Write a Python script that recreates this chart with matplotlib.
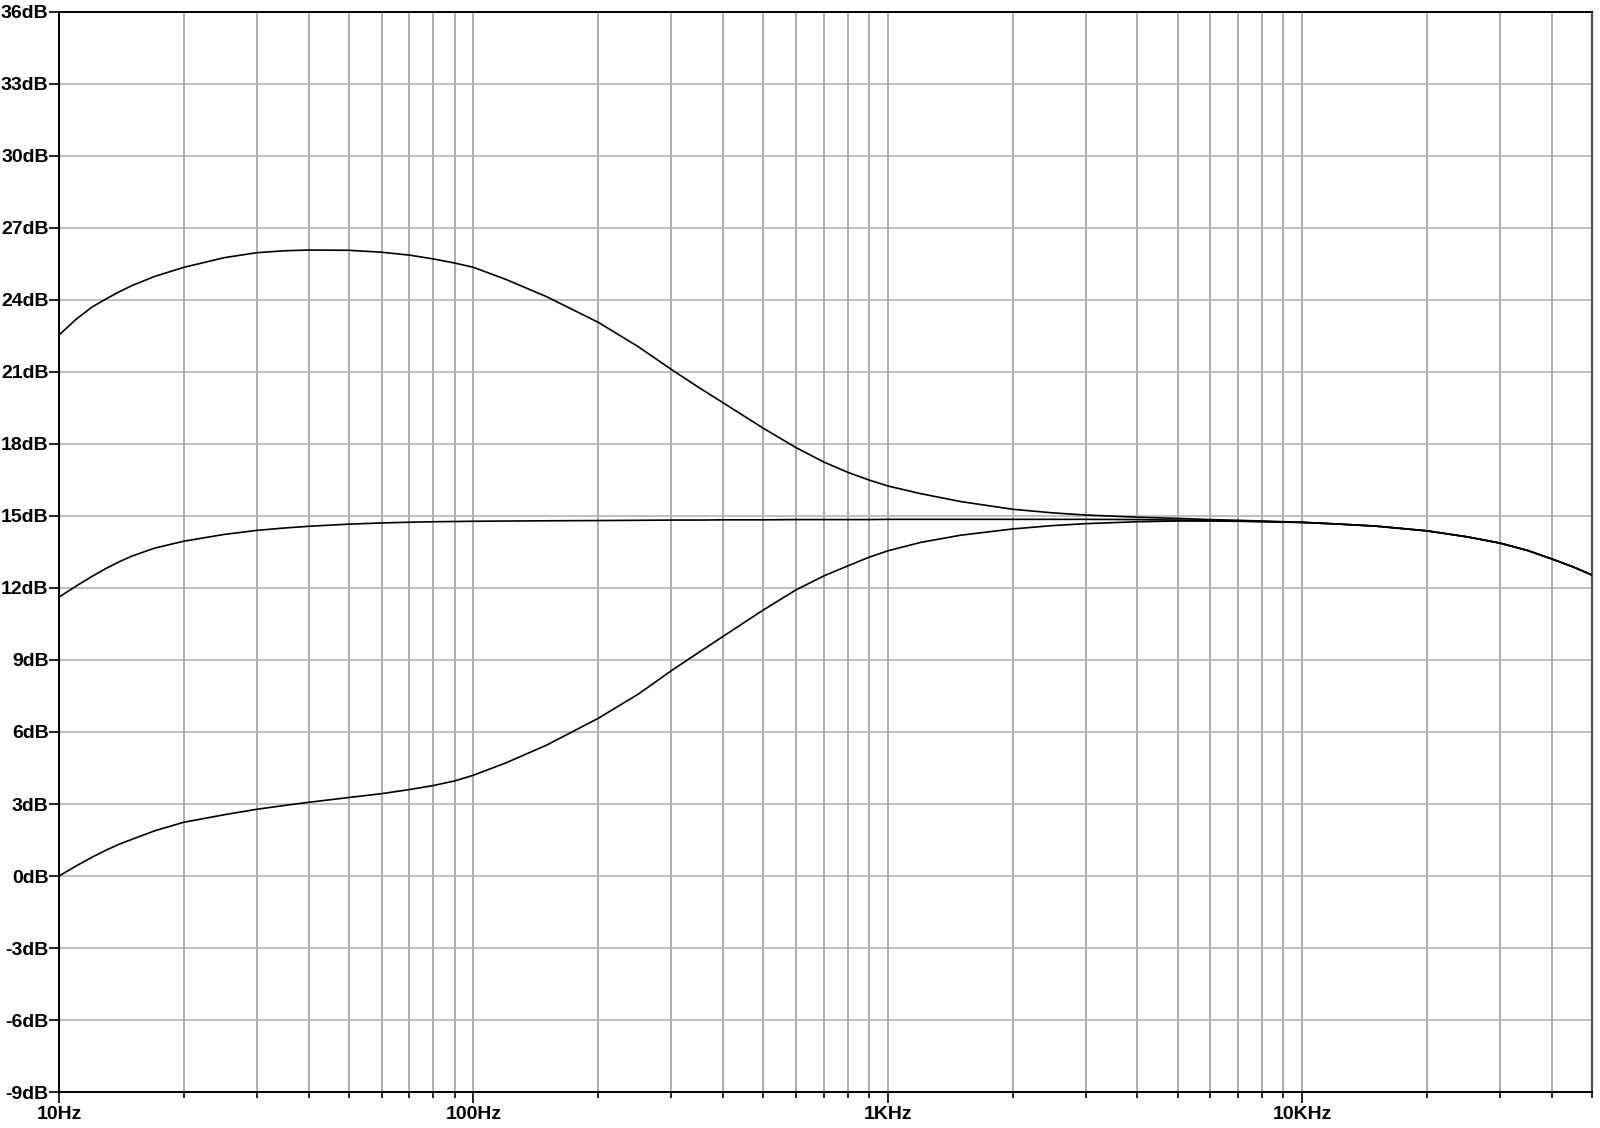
import matplotlib
matplotlib.use("Agg")
import matplotlib.pyplot as plt
from matplotlib.ticker import FixedLocator, NullFormatter

# frequency points (Hz)
freq = [10, 11, 12, 13, 14, 15, 17, 20, 25, 30, 35, 40, 50, 60, 70, 80, 90, 100,
        120, 150, 200, 250, 300, 350, 400, 500, 600, 700, 800, 900, 1000,
        1200, 1500, 2000, 2500, 3000, 4000, 5000, 6000, 7000, 8000, 10000,
        12000, 15000, 20000, 25000, 30000, 35000, 40000, 45000, 50000]

# bass boost (dB)
boost_db = [22.54, 23.20, 23.70, 24.05, 24.35, 24.60, 24.98, 25.36, 25.76, 25.97, 26.05, 26.08, 26.07,
            25.99, 25.87, 25.71, 25.54, 25.36,
            24.85, 24.14, 23.07, 22.05, 21.11, 20.35, 19.72, 18.66, 17.85, 17.25, 16.82, 16.50, 16.25,
            15.93, 15.60, 15.28, 15.13, 15.04, 14.95, 14.90, 14.85, 14.82, 14.79, 14.74,
            14.67, 14.58, 14.38, 14.13, 13.87, 13.56, 13.21, 12.88, 12.54]

# flat (dB)
flat_db = [11.62, 12.08, 12.48, 12.82, 13.10, 13.33, 13.66, 13.95, 14.23, 14.40, 14.50, 14.57, 14.66,
           14.71, 14.74, 14.76, 14.77, 14.78,
           14.79, 14.80, 14.81, 14.82, 14.83, 14.83, 14.84, 14.84, 14.85, 14.85, 14.85, 14.85, 14.86,
           14.86, 14.86, 14.86, 14.86, 14.86, 14.85, 14.83, 14.81, 14.79, 14.77, 14.73,
           14.67, 14.58, 14.38, 14.13, 13.87, 13.56, 13.21, 12.88, 12.54]

# bass cut (dB)
cut_db = [0.00, 0.42, 0.78, 1.08, 1.33, 1.53, 1.88, 2.24, 2.55, 2.78, 2.94, 3.07, 3.27,
          3.43, 3.60, 3.77, 3.96, 4.20,
          4.72, 5.45, 6.57, 7.58, 8.55, 9.32, 9.98, 11.08, 11.92, 12.50, 12.92, 13.28, 13.55,
          13.90, 14.20, 14.46, 14.60, 14.68, 14.76, 14.79, 14.79, 14.78, 14.76, 14.73,
          14.67, 14.58, 14.38, 14.13, 13.87, 13.56, 13.21, 12.88, 12.54]

y_ticks = [-9, -6, -3, 0, 3, 6, 9, 12, 15, 18, 21, 24, 27, 30, 33, 36]
x_major = [10, 100, 1000, 10000]
x_major_labels = ["10Hz", "100Hz", "1KHz", "10KHz"]
x_minor = [m * d for d in [10, 100, 1000, 10000] for m in range(2, 10) if m * d <= 50000]

fig = plt.figure(figsize=(16, 11.28), dpi=100)
ax = fig.add_axes([0.0369, 0.0319, 0.9581, 0.9575])

for y in [boost_db, flat_db, cut_db]:
    ax.plot(freq, y, color="black", linewidth=1.2, zorder=3,
            solid_joinstyle="round", solid_capstyle="round")

ax.set_xscale("log")
ax.set_xlim(10, 50000)
ax.set_ylim(-9, 36)

ax.xaxis.set_major_locator(FixedLocator(x_major))
ax.xaxis.set_minor_locator(FixedLocator(x_minor))
ax.set_xticklabels(x_major_labels)
ax.xaxis.set_minor_formatter(NullFormatter())
ax.set_yticks(y_ticks)
ax.set_yticklabels([f"{v}dB" for v in y_ticks])

for lab in ax.get_xticklabels() + ax.get_yticklabels():
    lab.set_fontfamily("Liberation Sans")
    lab.set_fontweight("bold")
    lab.set_fontsize(14)
    lab.set_color("black")

ax.tick_params(axis="x", which="major", direction="out", length=8, width=1.2, pad=2)
ax.tick_params(axis="x", which="minor", direction="out", length=4, width=1.2)
ax.tick_params(axis="y", which="major", direction="out", length=7, width=1.2, pad=0.5)

ax.grid(True, which="both", axis="x", color="#a0a0a0", linewidth=1.2)
ax.grid(True, which="major", axis="y", color="#b4b4b4", linewidth=1.2)

for side in ["left", "bottom", "top"]:
    ax.spines[side].set_color("black")
    ax.spines[side].set_linewidth(1.4)
ax.spines["right"].set_color("#555555")
ax.spines["right"].set_linewidth(1.6)

fig.savefig("out.png", dpi=100)
